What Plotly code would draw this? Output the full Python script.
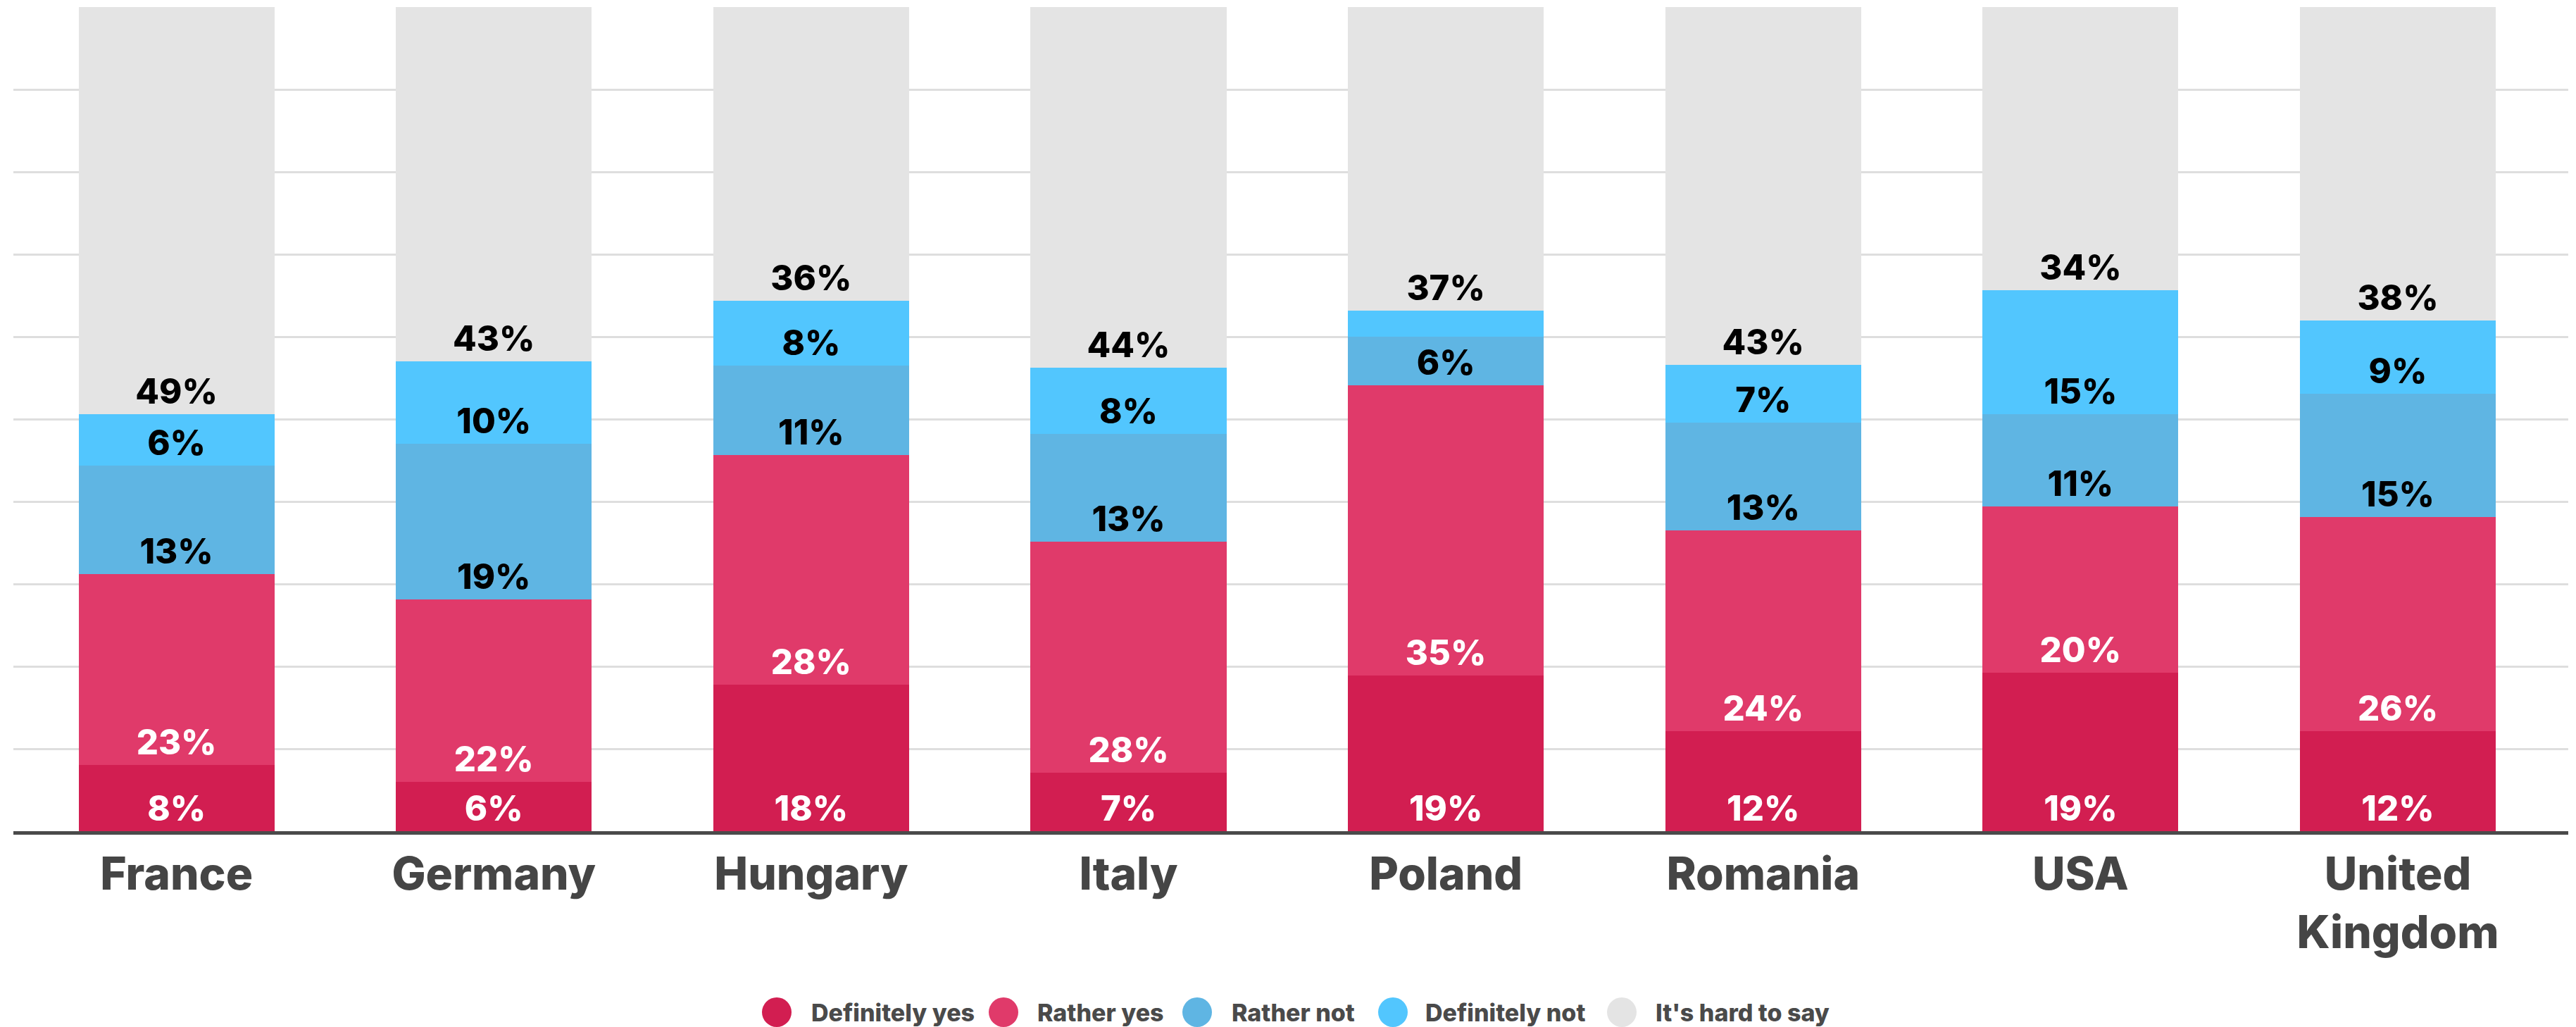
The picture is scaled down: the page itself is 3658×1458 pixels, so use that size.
import plotly.graph_objects as go

countries = ["France", "Germany", "Hungary", "Italy", "Poland", "Romania", "USA", "United<br>Kingdom"]
series_names = ["Definitely yes", "Rather yes", "Rather not", "Definitely not", "It's hard to say"]

definitely_yes = [8.0, 6.0, 17.8, 7.1, 18.9, 12.1, 19.2, 12.1]
rather_yes = [23.2, 22.1, 27.8, 28.0, 35.2, 24.4, 20.2, 26.0]
rather_not = [13.2, 18.9, 10.9, 13.1, 5.9, 13.1, 11.2, 15.0]
definitely_not = [6.2, 10.0, 7.9, 8.0, 3.2, 7.0, 15.0, 8.9]
hard_to_say = [49.4, 43.0, 35.6, 43.8, 36.8, 43.4, 34.4, 38.0]

colors = ["#D21E51", "#E03A6A", "#5FB5E3", "#52C6FE", "#E4E4E4"]
text_colors = ["#FFFFFF", "#FFFFFF", "#000000", "#000000", "#000000"]

FONT = "Inter"
W, H = 3658, 1458
ML, MR, MT, MB = 19, 11, 10, 278

fig = go.Figure()
all_series = [definitely_yes, rather_yes, rather_not, definitely_not, hard_to_say]
for name, vals, col, tcol in zip(series_names, all_series, colors, text_colors):
    labels = [f"{round(v)}%" if v >= 4 else "" for v in vals]
    fig.add_trace(go.Bar(
        x=countries, y=vals, name=name,
        marker=dict(color=col, line=dict(width=0)),
        text=labels, textposition="inside", insidetextanchor="start",
        textangle=0, constraintext="none",
        textfont=dict(family=FONT, size=49, color=tcol, weight=800),
        showlegend=False, hoverinfo="skip",
    ))

# manual legend with large circular markers (page pixel positions)
legend_circle_px = [1103, 1425, 1700, 1978, 2303]
legend_text_px = [1150, 1471, 1747, 2022, 2349]
legend_y_px = 1437
pw = W - ML - MR
ph = H - MT - MB
ly = (H - MB - legend_y_px) / ph
shapes = []
annotations = []
for name, col, cx, tx in zip(series_names, colors, legend_circle_px, legend_text_px):
    ax = (cx - ML) / pw
    shapes.append(dict(type="circle", xref="paper", yref="paper",
                       xsizemode="pixel", ysizemode="pixel",
                       xanchor=ax, yanchor=ly, x0=-21, x1=21, y0=-21, y1=21,
                       fillcolor=col, line=dict(width=0)))
    annotations.append(dict(text=name, xref="paper", yref="paper",
                            x=(tx - ML) / pw, y=ly, xanchor="left", yanchor="middle",
                            showarrow=False,
                            font=dict(family=FONT, size=34, color="#4a4a4a", weight=800)))

fig.update_layout(
    width=W, height=H,
    margin=dict(l=ML, r=MR, t=MT, b=MB),
    barmode="stack", bargap=0.383,
    plot_bgcolor="white", paper_bgcolor="white",
    shapes=shapes, annotations=annotations,
    xaxis=dict(range=[-0.514, 7.537], showline=True, linecolor="#4a4a4a", linewidth=5,
               ticks="outside", ticklen=1, tickcolor="rgba(0,0,0,0)",
               tickfont=dict(family=FONT, size=64, color="#454545", weight=800),
               showgrid=False, fixedrange=True),
    yaxis=dict(range=[0, 100], dtick=10, showgrid=True, gridcolor="#DEDEDE", gridwidth=3,
               showticklabels=False, zeroline=False, showline=False, fixedrange=True),
)

fig.write_html("out.html",
               config={"displayModeBar": False, "staticPlot": True},
               post_script="document.body.style.margin='0';document.body.style.overflow='hidden';")
